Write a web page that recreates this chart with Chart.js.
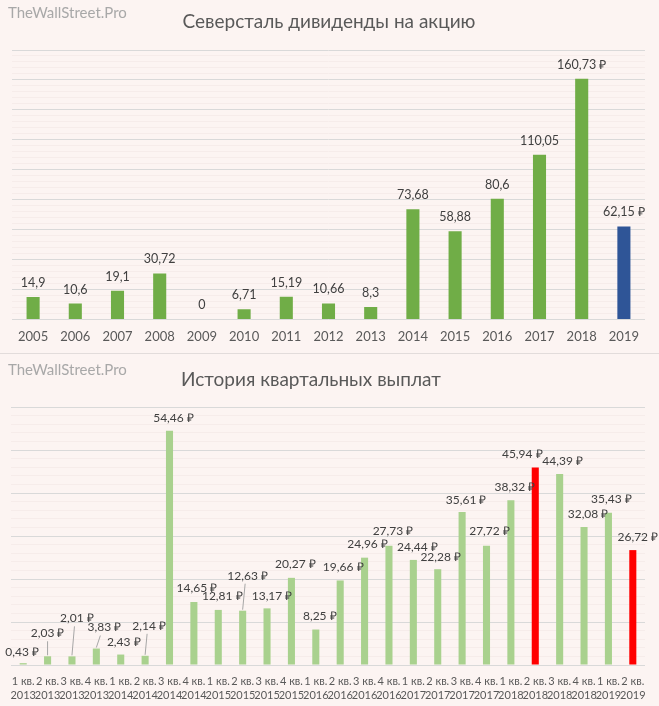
<!DOCTYPE html>
<html><head><meta charset="utf-8">
<script src="https://cdn.jsdelivr.net/npm/chart.js@4"></script>
<style>
html,body{margin:0;padding:0;background:#fcf4f2;}
#wrap{width:659px;height:706px;position:relative;overflow:hidden;background:#fcf4f2;}
#c1{position:absolute;left:0;top:0;}
#sep{position:absolute;left:0;top:353px;width:659px;height:1px;background:#e2dcdb;}
#c2{position:absolute;left:0;top:354px;}
</style></head><body>
<div id="wrap">
<canvas id="c1" width="659" height="353"></canvas>
<div id="sep"></div>
<canvas id="c2" width="659" height="352"></canvas>
</div>
<script>
// ---------- DATA ----------
const years = ['2005','2006','2007','2008','2009','2010','2011','2012','2013','2014','2015','2016','2017','2018','2019'];
const annualValues = [14.9, 10.6, 19.1, 30.72, 0, 6.71, 15.19, 10.66, 8.3, 73.68, 58.88, 80.6, 110.05, 160.73, 62.15];
const rubleYears = ['2018','2019'];
const highlightedYears = ['2019'];

const quarterTicks = ['1 кв. 2013','2 кв. 2013','3 кв. 2013','4 кв. 2013',
  '1 кв. 2014','2 кв. 2014','3 кв. 2014','4 кв. 2014',
  '1 кв. 2015','2 кв. 2015','3 кв. 2015','4 кв. 2015',
  '1 кв. 2016','2 кв. 2016','3 кв. 2016','4 кв. 2016',
  '1 кв. 2017','2 кв. 2017','3 кв. 2017','4 кв. 2017',
  '1 кв. 2018','2 кв. 2018','3 кв. 2018','4 кв. 2018',
  '1 кв. 2019','2 кв. 2019'];
const quarterValues = [0.43, 2.03, 2.01, 3.83, 2.43, 2.14, 54.46, 14.65, 12.81, 12.63, 13.17, 20.27,
  8.25, 19.66, 24.96, 27.73, 24.44, 22.28, 35.61, 27.72, 38.32, 45.94, 44.39, 32.08, 35.43, 26.72];
const highlightedQuarters = ['2 кв. 2018','2 кв. 2019'];

// ---------- label placement (offsets from bar top, px) ----------
const quarterLabelOffsets = [[-1,-11],[0,-23],[5,-38],[8,-21],[3,-12],[4,-30],[4,-13],[3,-14],[4,-14],[5,-35],
  [5,-12],[4,-14],[4,-13],[3,-13],[3,-14],[4,-15],[4,-13],[3,-12],[4,-12],[3,-15],[4,-13],[-13,-13],[3,-13],
  [4,-13],[3,-14],[5,-13]];
const quarterLeaders = [false,true,true,true,false,true,false,false,false,true,false,false,false,false,false,
  false,false,false,false,false,false,false,false,false,false,false];

const FONT = "Lato, 'Open Sans', sans-serif";
const fmt = v => String(v).replace('.', ',');

const valueLabels = {
  id: 'valueLabels',
  afterDatasetsDraw(chart, args, opts) {
    const ctx = chart.ctx;
    const meta = chart.getDatasetMeta(0);
    ctx.save();
    ctx.font = opts.font;
    ctx.textAlign = 'center';
    ctx.textBaseline = 'middle';
    meta.data.forEach((bar, i) => {
      const off = opts.offsets ? opts.offsets[i] : [0, opts.dy];
      const x = bar.x + off[0], y = bar.y + off[1];
      if (opts.leaders && opts.leaders[i]) {
        ctx.strokeStyle = '#a6a6a6';
        ctx.lineWidth = 1;
        ctx.beginPath();
        ctx.moveTo(bar.x + off[0] * 0.5, y + 8);
        ctx.lineTo(bar.x, bar.y - 1);
        ctx.stroke();
      }
      ctx.fillStyle = opts.color;
      ctx.fillText(opts.texts[i], x, y);
    });
    ctx.restore();
  }
};

const headings = {
  id: 'headings',
  afterDraw(chart, args, opts) {
    const ctx = chart.ctx;
    ctx.save();
    ctx.textBaseline = 'middle';
    ctx.textAlign = 'left';
    ctx.fillStyle = '#a8a8a8';
    ctx.font = '15px ' + FONT;
    ctx.fillText('TheWallStreet.Pro', 8, opts.markY);
    ctx.textAlign = 'center';
    ctx.fillStyle = '#595959';
    ctx.font = '19px ' + FONT;
    ctx.fillText(opts.title, opts.titleX, opts.titleY);
    ctx.restore();
  }
};

const gridColor = (major) => (c) => (c.tick && c.tick.value % major === 0) ? '#d9d9d9' : '#f6ecea';

// ---------- top chart ----------
new Chart(document.getElementById('c1'), {
  type: 'bar',
  data: {
    labels: years,
    datasets: [{
      data: annualValues,
      backgroundColor: years.map(y => highlightedYears.includes(y) ? '#2f5597' : '#70ad47'),
      barPercentage: 0.31,
      categoryPercentage: 1
    }]
  },
  plugins: [valueLabels, headings],
  options: {
    responsive: false,
    animation: false,
    layout: { padding: { left: 12, right: 14, top: 50, bottom: -2 } },
    plugins: {
      legend: { display: false },
      tooltip: { enabled: false },
      valueLabels: {
        font: '12.5px ' + FONT, color: '#404040', dy: -14,
        texts: annualValues.map((v, i) => fmt(v) + (rubleYears.includes(years[i]) ? ' ₽' : ''))
      },
      headings: { title: 'Северсталь дивиденды на акцию', titleX: 329, titleY: 22, markY: 13 }
    },
    scales: {
      x: {
        grid: { display: false, drawTicks: false },
        border: { display: false },
        ticks: { color: '#595959', font: { family: FONT, size: 13 }, padding: 10, maxRotation: 0 }
      },
      y: {
        min: 0, max: 180,
        ticks: { display: false, stepSize: 4 },
        grid: { color: gridColor(20), drawTicks: false },
        border: { display: false }
      }
    }
  }
});

// ---------- bottom chart ----------
new Chart(document.getElementById('c2'), {
  type: 'bar',
  data: {
    labels: quarterTicks.map(s => [s.slice(0, 5), s.slice(6)]),
    datasets: [{
      data: quarterValues,
      backgroundColor: quarterTicks.map(q => highlightedQuarters.includes(q) ? '#ff0000' : '#a9d18e'),
      barPercentage: 0.29,
      categoryPercentage: 1
    }]
  },
  plugins: [valueLabels, headings],
  options: {
    responsive: false,
    animation: false,
    layout: { padding: { left: 11, right: 14, top: 53, bottom: -5 } },
    plugins: {
      legend: { display: false },
      tooltip: { enabled: false },
      valueLabels: {
        font: '12px ' + FONT, color: '#404040',
        offsets: quarterLabelOffsets, leaders: quarterLeaders,
        texts: quarterValues.map(v => v.toFixed(2).replace('.', ',') + ' ₽')
      },
      headings: { title: 'История квартальных выплат', titleX: 311, titleY: 26, markY: 16 }
    },
    scales: {
      x: {
        grid: { display: false, drawTicks: false },
        border: { display: false },
        ticks: { color: '#595959', font: { family: FONT, size: 11, lineHeight: '14px' }, padding: 9,
          maxRotation: 0, autoSkip: false }
      },
      y: {
        min: 0, max: 60,
        ticks: { display: false, stepSize: 2 },
        grid: { color: gridColor(10), drawTicks: false },
        border: { display: false }
      }
    }
  }
});
</script>
</body></html>
